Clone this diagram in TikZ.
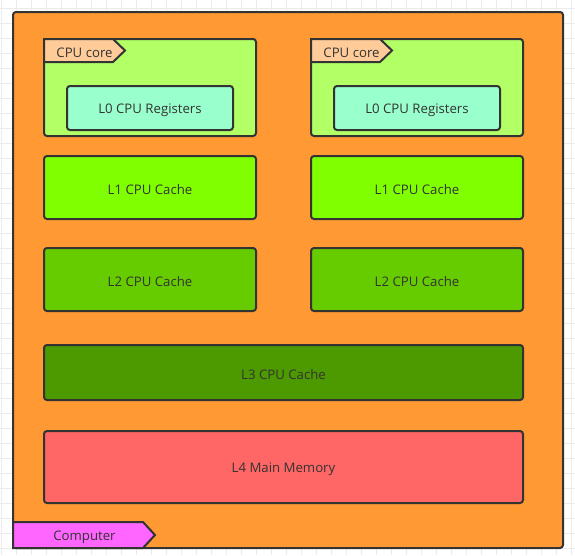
\documentclass[tikz,border=0pt]{standalone}
\usepackage{fontspec}
\setmainfont{Open Sans}
\definecolor{edge}{HTML}{333333}
\definecolor{gridc}{HTML}{EBEBEB}
\definecolor{orangebg}{HTML}{FF9933}
\definecolor{coreg}{HTML}{B3FF66}
\definecolor{peach}{HTML}{FFCC99}
\definecolor{mint}{HTML}{99FFCC}
\definecolor{lone}{HTML}{80FF00}
\definecolor{ltwo}{HTML}{66CC00}
\definecolor{lthree}{HTML}{4D9900}
\definecolor{lfour}{HTML}{FF6666}
\definecolor{pinkc}{HTML}{FF66FF}
\tikzset{
  box/.style={draw=edge, line width=2pt, rounded corners=3pt},
  tab/.style={draw=edge, line width=2pt, line join=miter},
  lbl/.style={text=edge, font=\fontsize{13.2}{15}\selectfont, inner sep=0pt, yshift=-1.5pt},
}
\begin{document}
\begin{tikzpicture}[x=1pt,y=-1pt]
\useasboundingbox (0,0) rectangle (575,555);
\fill[white] (0,0) rectangle (575,555);
% grid
\foreach \i in {0,...,38} {
  \draw[gridc, line width=1pt] (1.7+15*\i,0) -- (1.7+15*\i,555);
}
\foreach \j in {0,...,36} {
  \draw[gridc, line width=1pt] (0,8.3+15*\j) -- (575,8.3+15*\j);
}
% computer
\draw[box, fill=orangebg] (13,12) rectangle (563,548);
\draw[tab, fill=pinkc] (13,522) -- (143,522) -- (155,535) -- (143,548) -- (13,548) -- cycle;
\node[lbl] (comptxt) at (84.5,535.5) {Computer};
% cores
\foreach \n/\x in {a/44,b/311} {
  \draw[box, fill=coreg] (\x,39) rectangle (\x+212,136);
  \draw[tab, fill=peach] (\x,39) -- (\x+69,39) -- (\x+81,50.5) -- (\x+69,62) -- (\x,62) -- cycle;
  \node[lbl] (core\n) at (\x+40.5,51) {CPU core};
  \draw[box, fill=mint] (\x+23,86) rectangle (\x+189,130);
  \node[lbl] (lzero\n) at (\x+106,108.5) {L0 CPU Registers};
  \draw[box, fill=lone] (\x,156) rectangle (\x+212,219);
  \node[lbl] (lone\n) at (\x+106,188) {L1 CPU Cache};
  \draw[box, fill=ltwo] (\x,248) rectangle (\x+212,311);
  \node[lbl] (ltwo\n) at (\x+106,280) {L2 CPU Cache};
}
\draw[box, fill=lthree] (44,345) rectangle (523,400);
\node[lbl] (lthree) at (283.5,373) {L3 CPU Cache};
\draw[box, fill=lfour] (44,431) rectangle (523,503);
\node[lbl] (lfour) at (283.5,467.5) {L4 Main Memory};
\end{tikzpicture}
\end{document}
